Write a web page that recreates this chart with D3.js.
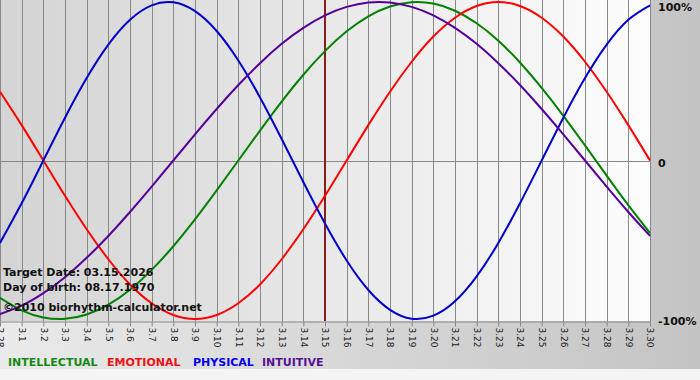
<!DOCTYPE html>
<html>
<head>
<meta charset="utf-8">
<script src="https://cdn.jsdelivr.net/npm/d3@7"></script>
<style>
    html, body { margin: 0; padding: 0; background: #ffffff; }
    svg { display: block; font-family: "DejaVu Sans", Verdana, sans-serif; }
</style>
</head>
<body>
<svg id="grafico"></svg>
<script>
// Days shown on the chart (month.day)
var dias = ["2.28", "3.1", "3.2", "3.3", "3.4", "3.5", "3.6", "3.7", "3.8", "3.9", "3.10",
    "3.11", "3.12", "3.13", "3.14", "3.15", "3.16", "3.17", "3.18", "3.19", "3.20",
    "3.21", "3.22", "3.23", "3.24", "3.25", "3.26", "3.27", "3.28", "3.29", "3.30"];

// Cycle values per day (-1 .. 1)
var intelectual = [-0.866, -0.945, -0.990, -0.999, -0.972, -0.910, -0.815, -0.690, -0.541, -0.372, -0.189,
    0.000, 0.189, 0.372, 0.541, 0.690, 0.815, 0.910, 0.972, 0.999, 0.990,
    0.945, 0.866, 0.756, 0.618, 0.458, 0.282, 0.095, -0.095, -0.282, -0.458];
var emocional = [0.434, 0.223, 0.000, -0.223, -0.434, -0.623, -0.782, -0.901, -0.975, -1.000, -0.975,
    -0.901, -0.782, -0.623, -0.434, -0.223, 0.000, 0.223, 0.434, 0.623, 0.782,
    0.901, 0.975, 1.000, 0.975, 0.901, 0.782, 0.623, 0.434, 0.223, 0.000];
var fisico = [-0.520, -0.270, 0.000, 0.270, 0.520, 0.731, 0.888, 0.979, 0.998, 0.942, 0.817,
    0.631, 0.398, 0.136, -0.136, -0.398, -0.631, -0.817, -0.942, -0.998, -0.979,
    -0.888, -0.731, -0.520, -0.270, 0.000, 0.270, 0.520, 0.731, 0.888, 0.979];
var intuitivo = [-0.969, -0.916, -0.837, -0.736, -0.614, -0.476, -0.325, -0.165, 0.000, 0.165, 0.325,
    0.476, 0.614, 0.736, 0.837, 0.916, 0.969, 0.997, 0.997, 0.969, 0.916,
    0.837, 0.736, 0.614, 0.476, 0.325, 0.165, 0.000, -0.165, -0.325, -0.476];

// Right axis ticks
var valoresEje = [1, 0, -1];
var etiquetasEje = ["100%", "0", "-100%"];

var diaObjetivo = "3.15";
var textosInfo = ["Target Date: 03.15.2026", "Day of birth: 08.17.1970", "\u00a92010 biorhythm-calculator.net"];

var series = [
    { nombre: "INTELLECTUAL", valores: intelectual, color: "#008000", leyenda: "#138a13" },
    { nombre: "EMOTIONAL", valores: emocional, color: "#ff0000", leyenda: "#ee1111" },
    { nombre: "PHYSICAL", valores: fisico, color: "#0000cc", leyenda: "#0000ee" },
    { nombre: "INTUITIVE", valores: intuitivo, color: "#550099", leyenda: "#55118f" }
];

var ancho = 700, alto = 380;
var plotAncho = 650, plotAlto = 321;

var svg = d3.select("#grafico")
    .attr("width", ancho)
    .attr("height", alto);

var defs = svg.append("defs");
var fondo = defs.append("linearGradient").attr("id", "fondo");
fondo.append("stop").attr("offset", "0%").attr("stop-color", "#eaeaea");
fondo.append("stop").attr("offset", "100%").attr("stop-color", "#c4c4c4");
var fondoPlot = defs.append("linearGradient").attr("id", "fondo-plot");
fondoPlot.append("stop").attr("offset", "0%").attr("stop-color", "#d4d4d4");
fondoPlot.append("stop").attr("offset", "100%").attr("stop-color", "#fdfdfd");

svg.append("rect")
    .attr("width", ancho).attr("height", alto)
    .attr("fill", "url(#fondo)");
svg.append("rect")
    .attr("y", 369).attr("width", ancho).attr("height", alto - 369)
    .attr("fill", "#f4f4f4");
svg.append("rect")
    .attr("width", plotAncho).attr("height", plotAlto)
    .attr("fill", "url(#fondo-plot)");

var x = d3.scalePoint()
    .domain(dias)
    .range([0, plotAncho]);

var y = d3.scaleLinear()
    .domain([-1, 1])
    .range([319, 2]);

// vertical grid, one line per day
svg.append("g")
    .selectAll("line")
    .data(dias)
    .enter().append("line")
    .attr("x1", function (d) { return Math.round(x(d)) + 0.5; })
    .attr("x2", function (d) { return Math.round(x(d)) + 0.5; })
    .attr("y1", 0)
    .attr("y2", plotAlto)
    .attr("stroke", "#888888")
    .attr("stroke-width", 1);

svg.append("line")
    .attr("x1", 0).attr("x2", plotAncho)
    .attr("y1", Math.round(y(0)) + 0.5).attr("y2", Math.round(y(0)) + 0.5)
    .attr("stroke", "#888888");

// bottom axis with rotated day labels
var ejeX = svg.append("g")
    .attr("transform", "translate(0," + (plotAlto + 0.5) + ")")
    .call(d3.axisBottom(x).tickSize(5).tickSizeOuter(0));
ejeX.select(".domain").attr("stroke", "#888888");
ejeX.selectAll(".tick line").attr("stroke", "#888888");
ejeX.selectAll(".tick text")
    .attr("transform", "rotate(90)")
    .attr("x", 6)
    .attr("y", 0)
    .attr("dy", "0.35em")
    .style("text-anchor", "start")
    .style("font-family", "'DejaVu Sans', Verdana, sans-serif")
    .style("font-size", "9px")
    .attr("fill", "#1a1a1a");

// target day marker
svg.append("line")
    .attr("x1", x(diaObjetivo)).attr("x2", x(diaObjetivo))
    .attr("y1", 0).attr("y2", plotAlto)
    .attr("stroke", "#8b1c1c")
    .attr("stroke-width", 2);

var linea = d3.line()
    .x(function (d, i) { return x(dias[i]); })
    .y(function (d) { return y(d); })
    .curve(d3.curveNatural);

for (let serie of series) {
    svg.append("path")
        .datum(serie.valores)
        .attr("fill", "none")
        .attr("stroke", serie.color)
        .attr("stroke-width", 2)
        .attr("d", linea);
}

// right axis labels
svg.append("g")
    .selectAll("text")
    .data(valoresEje)
    .enter().append("text")
    .attr("x", 658)
    .attr("y", function (d) { return Math.max(y(d) + 6, 11); })
    .style("font-size", "11px")
    .style("font-weight", "bold")
    .attr("fill", "#111")
    .text(function (d, i) { return etiquetasEje[i]; });

// info text over the plot
svg.append("g")
    .selectAll("text")
    .data(textosInfo)
    .enter().append("text")
    .attr("x", 3)
    .attr("y", function (d, i) { return [276, 291, 311][i]; })
    .style("font-size", "11px")
    .style("font-weight", "bold")
    .attr("fill", "#111")
    .text(function (d) { return d; });

// legend, one label per series
var posLeyenda = [8, 107, 193, 262];
svg.append("g")
    .selectAll("text")
    .data(series)
    .enter().append("text")
    .attr("x", function (d, i) { return posLeyenda[i]; })
    .attr("y", 366)
    .style("font-size", "11px")
    .style("font-weight", "bold")
    .attr("fill", function (d) { return d.leyenda; })
    .text(function (d) { return d.nombre; });
</script>
</body>
</html>
